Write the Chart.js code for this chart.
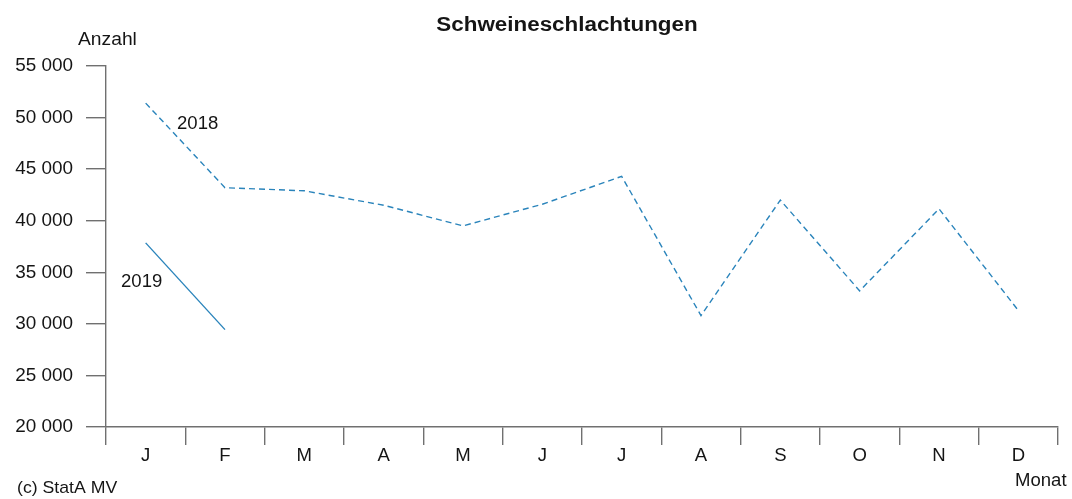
<!DOCTYPE html>
<html><head><meta charset="utf-8">
<script src="https://cdn.jsdelivr.net/npm/chart.js@4.4.1/dist/chart.umd.min.js"></script>
<style>html,body{margin:0;padding:0;background:#fff;overflow:hidden}#wrap{width:1072px;height:499px;position:relative}</style>
</head><body><div id="wrap"><canvas id="c" width="1072" height="499"></canvas></div>
<script>
const months = ['J','F','M','A','M','J','J','A','S','O','N','D'];
const values2018 = [51400, 43200, 42900, 41500, 39500, 41600, 44300, 30800, 42000, 33200, 41150, 31300];
const values2019 = [37850, 29440, null, null, null, null, null, null, null, null, null, null];
const yTickValues = [20000, 25000, 30000, 35000, 40000, 45000, 50000, 55000];
const titleText = 'Schweineschlachtungen';
const yAxisTitle = 'Anzahl';
const xAxisTitle = 'Monat';
const sourceText = '(c) StatA MV';
const seriesNames = ['2018', '2019'];

const FONT = "'Liberation Sans', Arial, sans-serif";
const LINE = '#2a84bb';
const AXIS = '#707070';
const TXT = '#151515';

function fmt(v){ return String(v).replace(/\B(?=(\d{3})+(?!\d))/g, ' '); }

function drawText(ctx, str, x, y, opt){
  ctx.save();
  ctx.font = opt.font || ('17.5px ' + FONT);
  ctx.fillStyle = opt.color || TXT;
  ctx.textAlign = opt.align || 'left';
  ctx.textBaseline = opt.baseline || 'alphabetic';
  ctx.translate(x, y);
  ctx.scale(opt.sx || 1.06, 1);
  ctx.fillText(str, 0, 0);
  ctx.restore();
}

const textPlugin = {
  id: 'texts',
  afterDraw(chart){
    const ctx = chart.ctx, xs = chart.scales.x, ys = chart.scales.y;
    drawText(ctx, titleText, 567, 30.5, {font: 'bold 20px ' + FONT, align: 'center', sx: 1.12});
    drawText(ctx, yAxisTitle, 78, 45, {sx: 1.1});
    drawText(ctx, xAxisTitle, 1015, 486, {sx: 1.06});
    drawText(ctx, sourceText, 17, 493, {font: '17px ' + FONT, sx: 1.04});
    yTickValues.forEach(v => {
      drawText(ctx, fmt(v), 73, ys.getPixelForValue(v) + 0.5, {align: 'right', baseline: 'middle', sx: 1.08});
    });
    months.forEach((m, i) => {
      drawText(ctx, m, xs.getPixelForValue(i), 461, {align: 'center'});
    });
    drawText(ctx, seriesNames[0], 177, 129, {});
    drawText(ctx, seriesNames[1], 121, 287, {});
  }
};

new Chart(document.getElementById('c'), {
  type: 'line',
  data: {
    labels: months,
    datasets: [
      {label: seriesNames[0], data: values2018, borderColor: LINE, borderWidth: 1.4, borderDash: [6, 4], pointRadius: 0, tension: 0, fill: false},
      {label: seriesNames[1], data: values2019, borderColor: LINE, borderWidth: 1.4, pointRadius: 0, tension: 0, fill: false, spanGaps: false}
    ]
  },
  options: {
    responsive: false,
    animation: false,
    events: [],
    layout: {padding: {left: 0, right: 14, top: 66, bottom: 32}},
    plugins: {legend: {display: false}, tooltip: {enabled: false}, title: {display: false}},
    scales: {
      x: {
        type: 'category',
        offset: true,
        grid: {offset: true, drawOnChartArea: false, drawTicks: true, tickLength: 18, color: AXIS, lineWidth: 1.4},
        border: {display: true, color: AXIS, width: 1.4},
        ticks: {display: false},
        afterFit(s){ s.height = 40; }
      },
      y: {
        min: 20000, max: 55000,
        ticks: {stepSize: 5000, display: false},
        grid: {drawOnChartArea: false, drawTicks: true, tickLength: 20, color: AXIS, lineWidth: 1.4},
        border: {display: true, color: AXIS, width: 1.4},
        afterFit(s){ s.width = 106; }
      }
    }
  },
  plugins: [textPlugin]
});
</script></body></html>
